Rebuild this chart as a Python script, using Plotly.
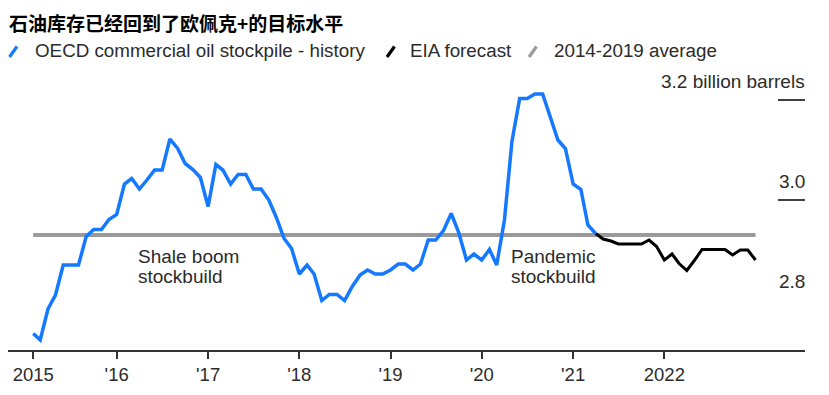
import pandas as pd
import plotly.graph_objects as go

# ---------------- data ----------------
start_month = "2015-02-01"
history = [2.733, 2.72, 2.782, 2.81, 2.87, 2.87, 2.87, 2.927, 2.941, 2.941, 2.961, 2.971,
           3.032, 3.043, 3.022, 3.04, 3.06, 3.06, 3.122, 3.103, 3.073, 3.061, 3.045, 2.987,
           3.071, 3.06, 3.032, 3.051, 3.051, 3.022, 3.022, 3.0, 2.965, 2.923, 2.903, 2.852,
           2.87, 2.852, 2.799, 2.811, 2.811, 2.799, 2.827, 2.85, 2.86, 2.852, 2.852, 2.86,
           2.872, 2.872, 2.86, 2.872, 2.92, 2.92, 2.939, 2.973, 2.935, 2.88, 2.892, 2.88,
           2.901, 2.87, 2.96, 3.117, 3.203, 3.203, 3.212, 3.212, 3.167, 3.12, 3.103, 3.032,
           3.021, 2.95, 2.933]
forecast = [2.933, 2.922, 2.918, 2.912, 2.912, 2.912, 2.912, 2.92, 2.907, 2.88, 2.892,
            2.873, 2.859, 2.879, 2.901, 2.901, 2.901, 2.901, 2.89, 2.90, 2.90, 2.88]
average_value = 2.93
tick_dates = ["2015-02-01", "2016-01-01", "2017-01-01", "2018-01-01", "2019-01-01",
              "2020-01-01", "2021-01-01", "2022-01-01"]
tick_labels = ["2015", "'16", "'17", "'18", "'19", "'20", "'21", "2022"]
y_label_values = [3.2, 3.0, 2.8]
y_label_texts = ["3.2 billion barrels", "3.0", "2.8"]
y_line_values = [3.2, 3.0]
series_names = ["OECD commercial oil stockpile - history", "EIA forecast", "2014-2019 average"]
title = "石油库存已经回到了欧佩克+的目标水平"
annot_lines = [["Shale boom", "stockbuild"], ["Pandemic", "stockbuild"]]
annot_dates = ["2016-03-18", "2020-04-20"]
annot_values = [2.8666, 2.8666]

# ---------------- derived ----------------
all_dates = pd.date_range(start_month, periods=len(history) + len(forecast) - 1, freq="MS")
hist_dates = all_dates[:len(history)]
fc_dates = all_dates[len(history) - 1:]

OFF = 8  # page body margin
W, H = 829, 395
# plot area in page pixels: x 8..805, y 80..350
PX0, PX1, PY0, PY1 = 8, 805, 80, 350
L = PX0 - OFF
T = PY0 - OFF
R = W - (PX1 - OFF)
B = H - (PY1 - OFF)
PW, PH = PX1 - PX0, PY1 - PY0

def px(x):
    return (x - PX0) / PW

def py(y):
    return (PY1 - y) / PH

BLUE = "#1579ff"
GRAY = "#9a9a9a"
TXT = "#2b2b2b"
FONT = "Liberation Sans, Arial, sans-serif"

fig = go.Figure()
fig.add_trace(go.Scatter(x=[all_dates[0], all_dates[-1]], y=[average_value, average_value],
                         mode="lines", line=dict(color=GRAY, width=4), name=series_names[2],
                         hoverinfo="skip"))
fig.add_trace(go.Scatter(x=fc_dates, y=forecast, mode="lines",
                         line=dict(color="#000000", width=3), name=series_names[1]))
fig.add_trace(go.Scatter(x=hist_dates, y=history, mode="lines",
                         line=dict(color=BLUE, width=3.5), name=series_names[0]))

shapes = []
annotations = []

# y tick lines (right side)
for v in y_line_values:
    shapes.append(dict(type="line", xref="paper", yref="y", x0=px(778), x1=px(805), y0=v, y1=v,
                       line=dict(color="#000000", width=1.5)))
for v, t in zip(y_label_values, y_label_texts):
    annotations.append(dict(xref="paper", yref="y", x=px(807), y=v, text=t, showarrow=False,
                            xanchor="right", yanchor="middle", yshift=19,
                            font=dict(family=FONT, size=19, color=TXT)))

# custom legend with slanted icons
legend_items = [(9.5, 33, BLUE), (387, 408, "#000000"), (529, 552, GRAY)]
for (ix, tx, col), name in zip(legend_items, series_names):
    shapes.append(dict(type="line", xref="paper", yref="paper", x0=px(ix), x1=px(ix + 7.5),
                       y0=py(57), y1=py(46.5), line=dict(color=col, width=3.2)))
    annotations.append(dict(xref="paper", yref="paper", x=px(tx), y=py(50.5), text=name,
                            showarrow=False, xanchor="left", yanchor="middle",
                            font=dict(family=FONT, size=18.8, color=TXT)))

# title
annotations.append(dict(xref="paper", yref="paper", x=px(8), y=py(OFF), text="<b>" + title + "</b>",
                        showarrow=False, xanchor="left", yanchor="top", borderpad=0,
                        font=dict(family="Noto Sans CJK SC, sans-serif", size=19, color="#000000")))

# chart annotations (one per line to keep the tight line spacing)
for d, v, lines in zip(annot_dates, annot_values, annot_lines):
    for i, t in enumerate(lines):
        annotations.append(dict(x=d, y=v, text=t, showarrow=False, xanchor="left", yanchor="middle",
                                yshift=10 - 20 * i, align="left",
                                font=dict(family=FONT, size=19, color=TXT)))

fig.update_layout(
    width=W, height=H,
    margin=dict(l=L, r=R, t=T, b=B),
    paper_bgcolor="white", plot_bgcolor="white",
    showlegend=False,
    shapes=shapes, annotations=annotations,
    xaxis=dict(type="date", range=["2014-10-23", "2023-07-18"], tickvals=tick_dates,
               ticktext=tick_labels, ticks="outside", ticklen=7, tickwidth=1.5,
               tickcolor="#333333", showline=True, linecolor="#333333", linewidth=1.5,
               showgrid=False, zeroline=False,
               tickfont=dict(family=FONT, size=18.5, color=TXT)),
    yaxis=dict(range=[2.7, 3.24], showgrid=False, zeroline=False, showticklabels=False,
               ticks="", showline=False),
    hovermode=False,
)

fig.write_html("out.html")
